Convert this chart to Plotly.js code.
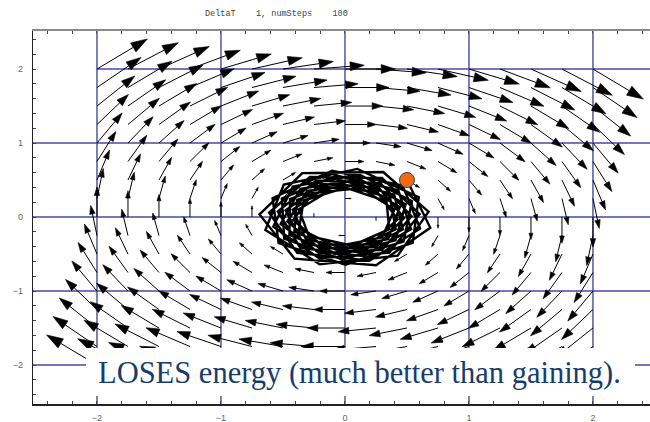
<!DOCTYPE html>
<html>
<head>
<meta charset="utf-8">
<script src="https://cdn.plot.ly/plotly-3.0.1.min.js"></script>
<style>html,body{margin:0;padding:0;background:#fff;}#chart{width:650px;height:422px;}</style>
</head>
<body>
<div id="chart"></div>
<script>
// ---------------- data ----------------
// sample positions of the vector field (columns and rows)
const fieldX = [-2,-1.75,-1.5,-1.25,-1,-0.75,-0.5,-0.25,0,0.25,0.5,0.75,1,1.25,1.5,1.75,2];
const fieldY = [-2,-1.75,-1.5,-1.25,-1,-0.75,-0.5,-0.25,0,0.25,0.5,0.75,1,1.25,1.5,1.75,2];
// horizontal component of the arrows in each row (row order = fieldY)
const rowU = [-2,-1.75,-1.5,-1.25,-1,-0.75,-0.5,-0.25,0,0.25,0.5,0.75,1,1.25,1.5,1.75,2];
// vertical component of the arrows in each column (column order = fieldX)
const colV = [2,1.75,1.5,1.25,1,0.75,0.5,0.25,0,-0.25,-0.5,-0.75,-1,-1.25,-1.5,-1.75,-2];

// numerical trajectory (101 points, start = orange dot)
const trajX = [0.5,0.688,0.251,-0.407,-0.689,-0.344,0.308,0.674,0.425,-0.204,
 -0.642,-0.493,0.100,0.595,0.546,0.004,-0.535,-0.584,-0.104,0.465,
 0.606,0.197,-0.385,-0.612,-0.283,0.298,0.602,0.358,-0.207,-0.578,
 -0.421,0.114,0.540,0.472,-0.022,-0.490,-0.509,-0.068,0.430,0.533,
 0.152,-0.361,-0.542,-0.230,0.286,0.537,0.299,-0.206,-0.519,-0.359,
 0.124,0.489,0.407,-0.042,-0.448,-0.443,-0.038,0.397,0.467,0.114,
 -0.338,-0.479,-0.185,0.272,0.478,0.249,-0.203,-0.465,-0.304,0.131,
 0.442,0.349,-0.058,-0.408,-0.385,-0.014,0.365,0.409,0.083,-0.314,
 -0.422,-0.147,0.258,0.425,0.205,-0.197,-0.416,-0.256,0.134,0.398,
 0.299,-0.069,-0.370,-0.333,0.005,0.335,0.357,0.057,-0.292,-0.372,
 -0.115];
const trajY = [0.5,-0.146,-0.652,-0.562,0.035,0.593,0.608,0.073,-0.522,-0.637,
 -0.175,0.440,0.650,0.269,-0.350,-0.645,-0.353,0.255,0.625,0.425,
 -0.157,-0.590,-0.484,0.058,0.541,0.529,0.038,-0.481,-0.559,-0.130,
 0.411,0.574,0.216,-0.333,-0.574,-0.293,0.250,0.560,0.360,-0.164,
 -0.532,-0.415,0.076,0.493,0.458,0.010,-0.442,-0.489,-0.093,0.382,
 0.506,0.170,-0.315,-0.510,-0.241,0.243,0.501,0.303,-0.167,-0.480,
 -0.355,0.089,0.447,0.396,-0.012,-0.405,-0.427,-0.062,0.354,0.445,
 0.132,-0.296,-0.452,-0.197,0.233,0.447,0.254,-0.167,-0.431,-0.302,
 0.098,0.405,0.342,-0.030,-0.370,-0.371,-0.037,0.327,0.391,0.100,
 -0.277,-0.399,-0.159,0.223,0.398,0.211,-0.164,-0.387,-0.257,0.104,
 0.366];

const tickVals = [-2,-1,0,1,2];
const titleText = "DeltaT\u00A0\u00A0\u00A0\u00A01,\u00A0numSteps\u00A0\u00A0\u00A0\u00A0100";
const noteText = "LOSES energy (much better than gaining).";

// ---------------- style / geometry ----------------
const W = 650, H = 422;
const M = {l:33, r:0, t:31, b:18};
const xRange = [-2.516, 2.46];
const yRange = [-2.527, 2.514];
const ARROW_SCALE = 0.203;   // data units per unit of field
const HEAD_FRAC = 0.28;      // head length relative to arrow length (px)
const HEAD_WIDTH = 0.32;     // half width relative to head length
const GRID_COLOR = '#4a4a9c';

const pxX = (W - M.l - M.r) / (xRange[1] - xRange[0]);
const pxY = (H - M.t - M.b) / (yRange[1] - yRange[0]);

// ---------------- build arrows ----------------
const shaftX = [], shaftY = [], headX = [], headY = [];
fieldY.forEach((y0, j) => {
  fieldX.forEach((x0, i) => {
    const u = rowU[j], v = colV[i];
    const dx = u * ARROW_SCALE, dy = v * ARROW_SCALE;
    const ax = dx * pxX, ay = dy * pxY;
    const L = Math.hypot(ax, ay);
    if (L < 0.5) return;
    const ux = ax / L, uy = ay / L;
    const hl = HEAD_FRAC * L, hw = HEAD_WIDTH * hl;
    const tx = x0 + dx, ty = y0 + dy;
    const bx = ax - ux * hl, by = ay - uy * hl;   // base center in px rel to tail
    shaftX.push(x0, x0 + bx / pxX, null);
    shaftY.push(y0, y0 + by / pxY, null);
    const px = -uy, py = ux;
    headX.push(tx, x0 + (bx + px * hw) / pxX, x0 + (bx - px * hw) / pxX, tx, null);
    headY.push(ty, y0 + (by + py * hw) / pxY, y0 + (by - py * hw) / pxY, ty, null);
  });
});

const traces = [
  {x: shaftX, y: shaftY, mode: 'lines', line: {color: '#000', width: 1}, hoverinfo: 'skip', showlegend: false},
  {x: headX, y: headY, mode: 'lines', fill: 'toself', fillcolor: '#000', line: {color: '#000', width: 0.6}, hoverinfo: 'skip', showlegend: false},
  {x: trajX, y: trajY, mode: 'lines', line: {color: '#000', width: 2.4}, hoverinfo: 'skip', showlegend: false},
  {x: [trajX[0]], y: [trajY[0]], mode: 'markers', marker: {size: 15, color: '#f26a10', line: {color: '#34406a', width: 1}}, hoverinfo: 'skip', showlegend: false},
  {x: [null], y: [null], xaxis: 'x2', mode: 'markers', hoverinfo: 'skip', showlegend: false}
];

// ---------------- grid shapes ----------------
const gridStartX = {2: -2};   // the top horizontal grid line starts at x = -2
const shapes = [];
tickVals.forEach(g => {
  shapes.push({type: 'line', xref: 'x', yref: 'y', x0: g, x1: g, y0: yRange[0], y1: yRange[1],
               line: {color: GRID_COLOR, width: 1.4}, layer: 'below'});
  const xs = (g in gridStartX) ? gridStartX[g] : xRange[0];
  shapes.push({type: 'line', xref: 'x', yref: 'y', x0: xs, x1: xRange[1], y0: g, y1: g,
               line: {color: GRID_COLOR, width: 1.4}, layer: 'below'});
});
// white box behind the note
shapes.push({type: 'rect', xref: 'x', yref: 'y', x0: -2.089, x1: 2.339, y0: -2.419, y1: -1.77,
             fillcolor: '#fff', line: {width: 0}, layer: 'above'});

const tickFont = {family: 'Liberation Sans, Arial, sans-serif', size: 9, color: '#666'};
const minor = {tickmode: 'linear', tick0: 0, dtick: 0.2, ticks: 'inside', ticklen: 3, tickcolor: '#444', tickwidth: 1};

const layout = {
  width: W, height: H,
  margin: M,
  paper_bgcolor: '#fff', plot_bgcolor: '#fff',
  showlegend: false,
  xaxis: {range: xRange, showgrid: false, zeroline: false, showline: true, linecolor: '#222', linewidth: 1.5,
          ticks: 'inside', ticklen: 3, tickcolor: '#444', tickmode: 'array', tickvals: tickVals,
          tickfont: tickFont, ticklabelstandoff: 5, minor: minor, fixedrange: true},
  xaxis2: {range: xRange, overlaying: 'x', side: 'top', anchor: 'y', showgrid: false, zeroline: false,
           showline: true, linecolor: '#8a8a8a', linewidth: 2, ticks: 'inside', ticklen: 3, tickcolor: '#555',
           tickmode: 'array', tickvals: tickVals, showticklabels: false, minor: minor, fixedrange: true},
  yaxis: {range: yRange, showgrid: false, zeroline: false, showline: true, linecolor: '#222', linewidth: 1.2,
          ticks: 'inside', ticklen: 3, tickcolor: '#444', tickmode: 'array', tickvals: tickVals,
          tickfont: tickFont, ticklabelstandoff: 7, minor: minor, fixedrange: true},
  shapes: shapes,
  annotations: [
    {text: titleText, xref: 'paper', yref: 'paper', x: (203 - M.l) / (W - M.l - M.r), y: 1 + (M.t - 14) / (H - M.t - M.b),
     xanchor: 'left', yanchor: 'middle', showarrow: false,
     font: {family: 'Liberation Mono, Courier New, monospace', size: 8.5, color: '#444'}},
    {text: noteText, xref: 'x', yref: 'y', x: -2.01, y: -2.104, xanchor: 'left', yanchor: 'middle', showarrow: false,
     font: {family: 'Liberation Serif, Times New Roman, serif', size: 30.5, color: '#153c6c'}}
  ]
};

Plotly.newPlot('chart', traces, layout, {displayModeBar: false, staticPlot: true});
</script>
</body>
</html>
